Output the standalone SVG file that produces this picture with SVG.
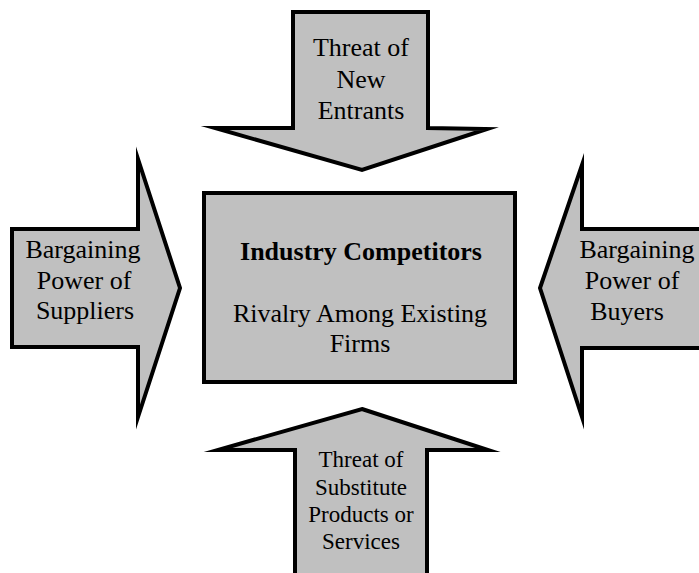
<svg xmlns="http://www.w3.org/2000/svg" width="699" height="573" viewBox="0 0 699 573">
<style>
.shape{fill:#c0c0c0;stroke:#000;stroke-width:4;stroke-linejoin:miter;stroke-miterlimit:12}
.t{font-size:26px}
.s{font-size:23px}
.b{font-size:26px;font-weight:bold}
</style>
<rect width="699" height="573" fill="#fff"/>
<g id="connectors">
<g id="new-entrants">
<polygon class="shape" points="293,12 428,12 428,128 487,129 362,170 215,128 293,128"/>
</g>
<g id="suppliers">
<polygon class="shape" points="12,229 138,229 138,159 180,288 138,417 138,347 12,347"/>
</g>
<g id="buyers">
<polygon class="shape" points="712,229 582,229 582,165 540,288 582,417 582,348 712,348"/>
</g>
<g id="substitutes">
<polygon class="shape" points="362,409 488,450 427,450 427,580 295,580 295,450 218,450"/>
</g>
</g>
<g id="industry-competitors">
<rect class="shape" x="204" y="193" width="311" height="189"/>
</g>
<g font-family="'Liberation Serif', 'Times New Roman', Times, serif" fill="#000" text-anchor="middle">
<g id="new-entrants-label">
<text class="t" x="361" y="56">Threat of</text>
<text class="t" x="361" y="88">New</text>
<text class="t" x="361" y="119">Entrants</text>
</g>
<g id="suppliers-label">
<text class="t" x="83" y="258">Bargaining</text>
<text class="t" x="84" y="289">Power of</text>
<text class="t" x="85" y="319">Suppliers</text>
</g>
<g id="buyers-label">
<text class="t" x="637" y="258">Bargaining</text>
<text class="t" x="632" y="289">Power of</text>
<text class="t" x="627" y="320">Buyers</text>
</g>
<g id="substitutes-label">
<text class="s" x="361" y="467">Threat of</text>
<text class="s" x="361" y="495">Substitute</text>
<text class="s" x="361" y="522">Products or</text>
<text class="s" x="361" y="549">Services</text>
</g>
<g id="industry-competitors-label">
<text class="b" x="361" y="260">Industry Competitors</text>
<text class="t" x="360" y="322">Rivalry Among Existing</text>
<text class="t" x="360" y="352">Firms</text>
</g>
</g>
</svg>
